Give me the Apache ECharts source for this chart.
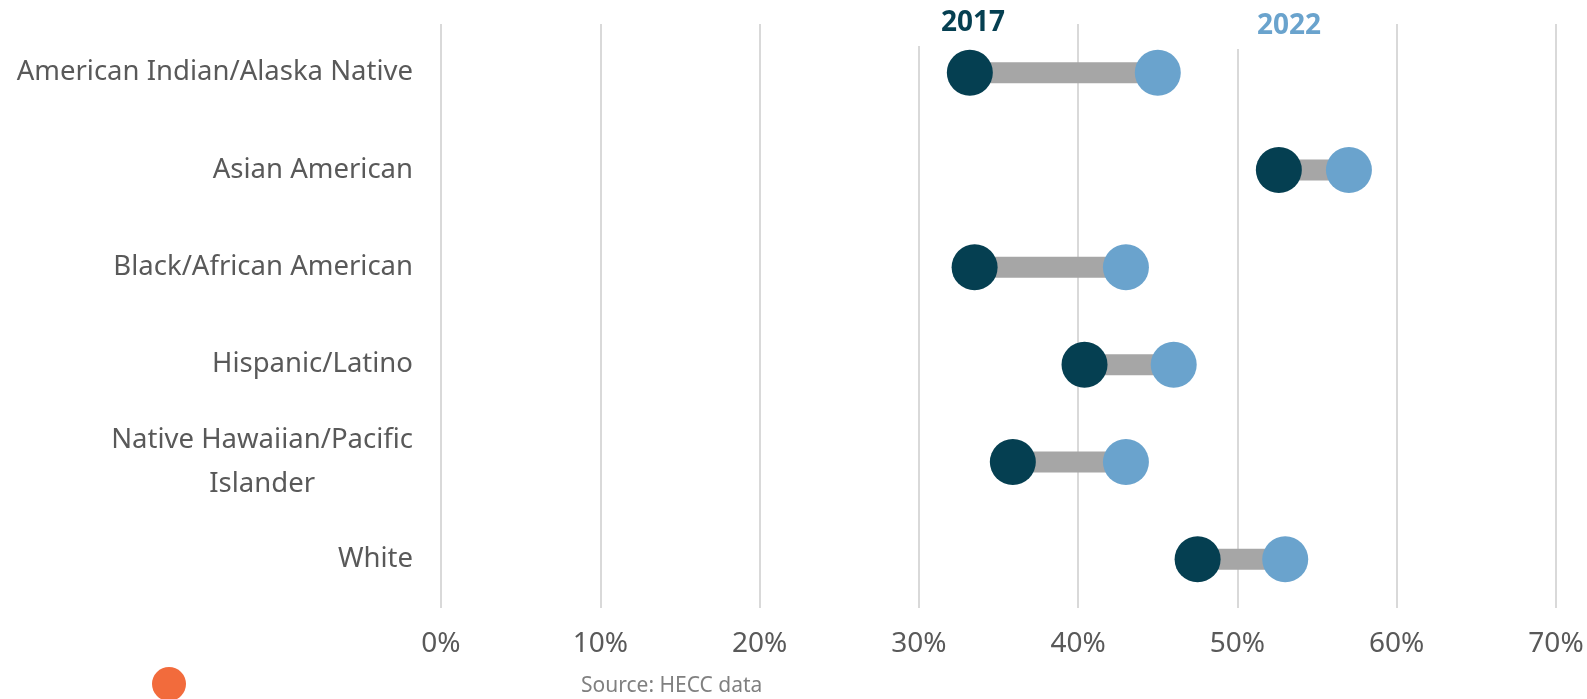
<!DOCTYPE html>
<html>
<head>
<meta charset="utf-8">
<script src="https://cdn.jsdelivr.net/npm/echarts@6/dist/echarts.min.js"></script>
<style>
html,body{margin:0;padding:0;background:#fff;}
#chart{width:1587px;height:699px;}
</style>
</head>
<body>
<div id="chart"></div>
<script>
// Data (percent)
const categories = [
  "American Indian/Alaska Native",
  "Asian American",
  "Black/African American",
  "Hispanic/Latino",
  "Native Hawaiian/Pacific\nIslander",
  "White"
];
const values2017 = [33.2, 52.6, 33.5, 40.4, 35.9, 47.5];
const values2022 = [45.0, 57.0, 43.0, 46.0, 43.0, 53.0];
const xTicks = [0, 10, 20, 30, 40, 50, 60, 70];
const seriesNames = ["2017", "2022"];
const sourceText = "Source: HECC data";

const C17 = "#053f51", C22 = "#6aa3cd", CGRAY = "#a6a6a6", CTEXT = "#595959";
const FONT = "Noto Sans";

const chart = echarts.init(document.getElementById('chart'));

const pairs = categories.map((c, i) => [values2017[i], values2022[i], i]);

const option = {
  backgroundColor: "#fff",
  animation: false,
  grid: { left: 441, right: 31, top: 24, bottom: 91, containLabel: false },
  xAxis: {
    type: "value",
    min: xTicks[0], max: xTicks[xTicks.length - 1], interval: 10,
    axisLine: { show: false }, axisTick: { show: false },
    splitLine: { show: true, lineStyle: { color: "#d9d9d9", width: 2 } },
    axisLabel: {
      formatter: v => v + "%", color: CTEXT, fontSize: 28, fontFamily: FONT, margin: 22
    }
  },
  yAxis: {
    type: "category", data: categories, inverse: true,
    axisLine: { show: false }, axisTick: { show: false }, splitLine: { show: false },
    axisLabel: {
      color: CTEXT, fontSize: 27.5, fontFamily: FONT, margin: 28, align: "right",
      lineHeight: 44,
      formatter: v => v.indexOf("\n") >= 0 ? v.split("\n").map(s => "{c|" + s + "}").join("\n") : v,
      rich: { c: { align: "center", fontSize: 27.5, fontFamily: FONT, color: CTEXT, lineHeight: 44 } }
    }
  },
  graphic: [
    { type: "text", z: 10,
      style: { x: 973, y: 23, text: seriesNames[0], fill: C17, font: "bold 28px '" + FONT + "'",
               backgroundColor: "#fff", padding: [8, 32, 10, 32], align: "center", verticalAlign: "middle" } },
    { type: "text", z: 10,
      style: { x: 1289, y: 26, text: seriesNames[1], fill: C22, font: "bold 28px '" + FONT + "'",
               backgroundColor: "#fff", padding: [8, 32, 10, 32], align: "center", verticalAlign: "middle" } },
    { type: "text", z: 10,
      style: { x: 581, y: 686, text: sourceText, fill: "#808080", font: "21px '" + FONT + "'",
               align: "left", verticalAlign: "middle" } },
    { type: "circle", shape: { cx: 169, cy: 684, r: 17 }, style: { fill: "#f26b3c" } }
  ],
  series: [
    {
      type: "custom",
      data: pairs,
      encode: { x: [0, 1], y: 2 },
      renderItem: function (params, api) {
        const p1 = api.coord([api.value(0), api.value(2)]);
        const p2 = api.coord([api.value(1), api.value(2)]);
        return {
          type: "line",
          shape: { x1: p1[0], y1: p1[1], x2: p2[0], y2: p2[1] },
          style: { stroke: CGRAY, lineWidth: 21 }
        };
      },
      z: 1
    },
    {
      name: seriesNames[0], type: "scatter", symbolSize: 46,
      itemStyle: { color: C17, opacity: 1 },
      data: values2017.map((v, i) => [v, i]), z: 3
    },
    {
      name: seriesNames[1], type: "scatter", symbolSize: 46,
      itemStyle: { color: C22, opacity: 1 },
      data: values2022.map((v, i) => [v, i]), z: 2
    }
  ]
};
chart.setOption(option);
</script>
</body>
</html>
